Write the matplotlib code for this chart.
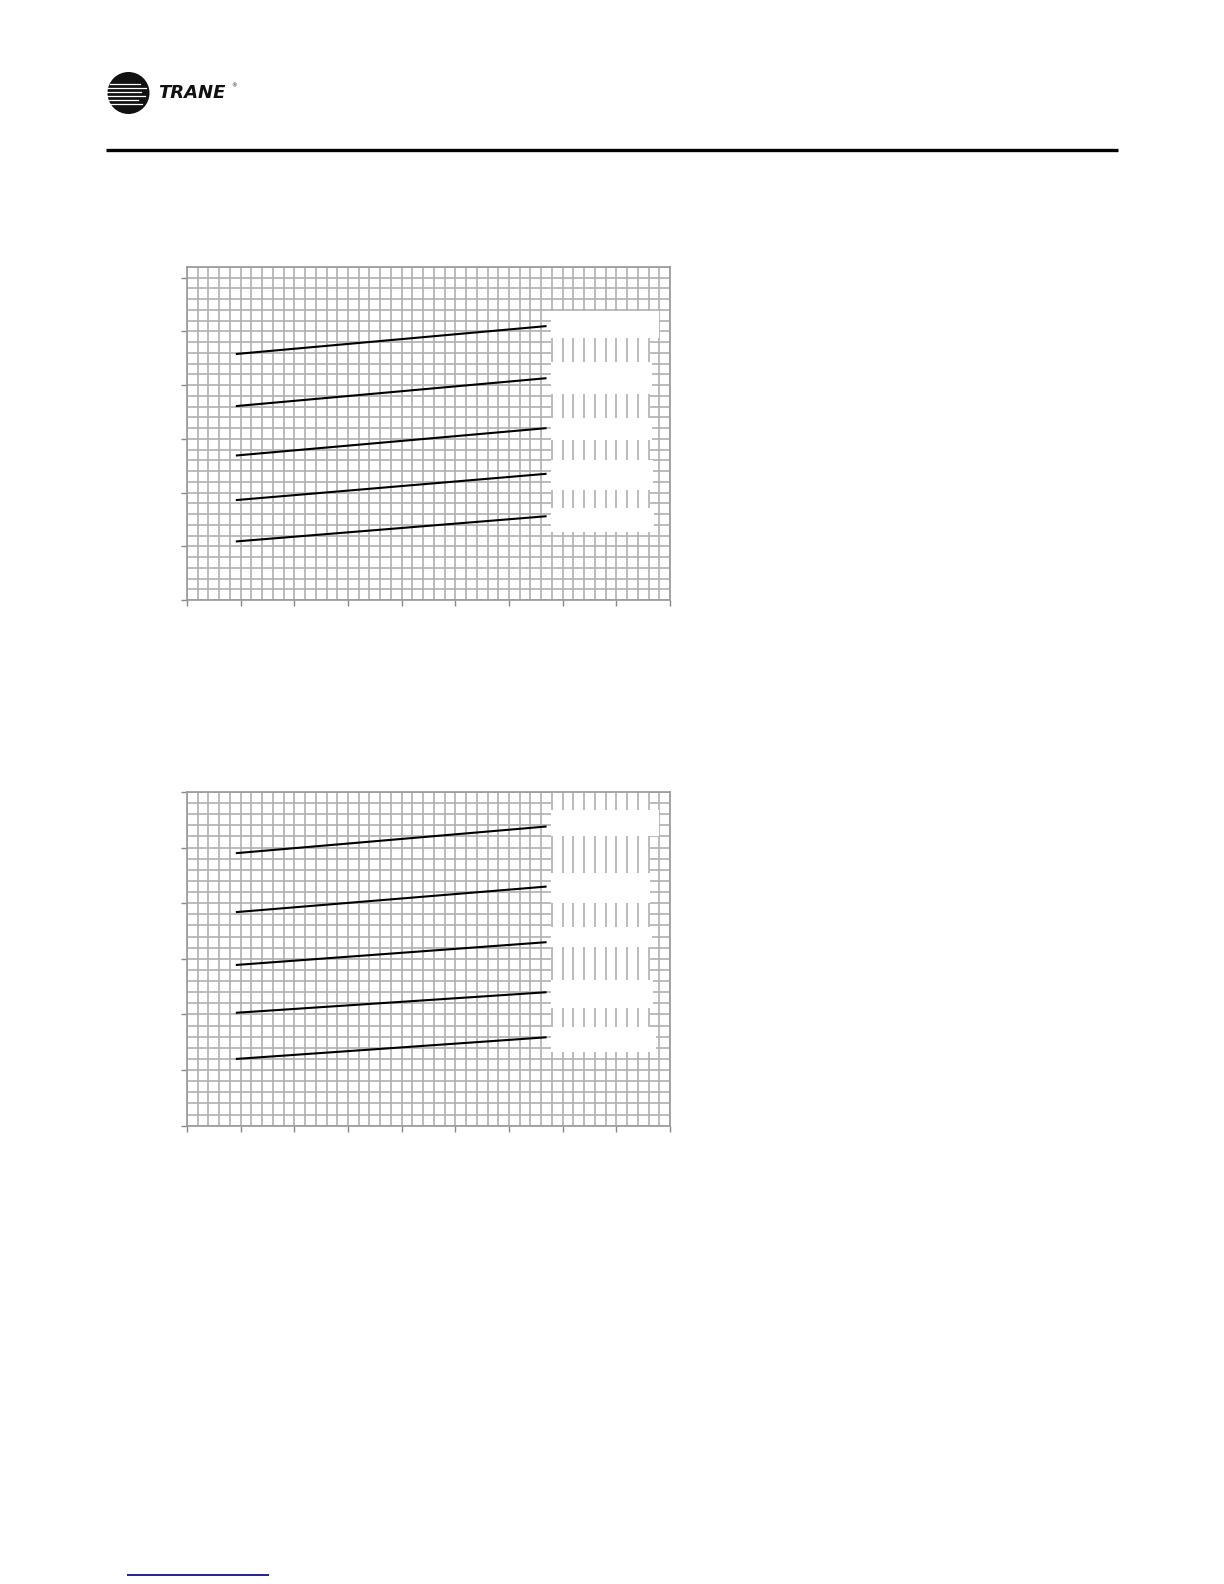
import numpy as np
import matplotlib.pyplot as plt
from matplotlib.patches import Rectangle, Circle
from matplotlib.ticker import MultipleLocator

# series (x in major grid units, y in major grid units)
line_x = [0.91, 6.70]

top_starts = [4.58, 3.61, 2.69, 1.86, 1.09]
top_ends = [5.10, 4.13, 3.20, 2.35, 1.56]

bottom_starts = [4.90, 3.84, 2.89, 2.03, 1.20]
bottom_ends = [5.38, 4.30, 3.30, 2.40, 1.59]

# blanked label areas at the right of each chart: (x_right, y_bottom, y_top)
top_boxes = [(8.79, 4.885, 5.38), (8.66, 3.83, 4.44), (8.66, 2.98, 3.38),
             (8.69, 2.05, 2.61), (8.70, 1.27, 1.71)]
bottom_boxes = [(8.80, 5.20, 5.67), (8.63, 4.00, 4.54), (8.66, 3.21, 3.58),
                (8.69, 2.12, 2.62), (8.73, 1.33, 1.78)]

GRID = '#b0b0b0'
BOX_LEFT = 6.777
GAP_RIGHT = 8.627


def draw_chart(ax, starts, ends, boxes, ymax, gap_top):
    ax.set_xlim(0, 9)
    ax.set_ylim(0, ymax)
    ax.xaxis.set_major_locator(MultipleLocator(1))
    ax.xaxis.set_minor_locator(MultipleLocator(0.2))
    ax.yaxis.set_major_locator(MultipleLocator(1))
    ax.yaxis.set_minor_locator(MultipleLocator(0.2))
    ax.grid(which='both', color=GRID, linewidth=1.2)
    ax.tick_params(which='major', length=4, width=1, color='#888888',
                   labelbottom=False, labelleft=False)
    ax.tick_params(which='minor', length=0)
    for s in ax.spines.values():
        s.set_color('#999999')
        s.set_linewidth(1.2)

    # white strip that hides the horizontal grid behind the labels
    y_low = min(b[1] for b in boxes)
    ax.add_patch(Rectangle((BOX_LEFT, y_low), GAP_RIGHT - BOX_LEFT, gap_top - y_low,
                           facecolor='white', edgecolor='none', zorder=1.8))
    # vertical grid still shows between the label boxes
    locs = np.concatenate([ax.xaxis.get_minorticklocs(), ax.xaxis.get_majorticklocs()])
    xs = sorted(x for x in locs if BOX_LEFT < x < GAP_RIGHT)
    ax.vlines(xs, y_low, gap_top, color=GRID, linewidth=1.2, zorder=1.9)
    for xr, yb, yt in boxes:
        ax.add_patch(Rectangle((BOX_LEFT, yb), xr - BOX_LEFT, yt - yb,
                               facecolor='white', edgecolor='none', zorder=1.95))

    for s, e in zip(starts, ends):
        ax.plot(line_x, [s, e], color='black', linewidth=1.5, zorder=3,
                solid_capstyle='butt')


fig = plt.figure(figsize=(12.24, 15.84), dpi=100)

ax1 = fig.add_axes([187 / 1224, 1 - 600 / 1584, 483 / 1224, 333 / 1584])
draw_chart(ax1, top_starts, top_ends, top_boxes, 6.2, top_boxes[0][2])

ax2 = fig.add_axes([187 / 1224, 1 - 1125.7 / 1584, 483 / 1224, 333.7 / 1584])
draw_chart(ax2, bottom_starts, bottom_ends, bottom_boxes, 6.0, 6.0)

# page decoration in pixel coordinates
page = fig.add_axes([0, 0, 1, 1], zorder=-1)
page.set_xlim(0, 1224)
page.set_ylim(1584, 0)
page.axis('off')

page.add_patch(Circle((128.5, 93), 21, facecolor='#111111', edgecolor='none'))
for yy, x0, x1 in [(84, 110, 140), (88, 108, 146), (92, 107, 141), (96, 107, 145),
                   (100, 108, 138), (104, 110, 142)]:
    page.plot([x0, x1], [yy, yy], color='white', linewidth=0.9)
page.text(158, 98, 'TRANE', fontsize=13, fontweight='heavy', fontstyle='italic',
          color='#111111', family='DejaVu Sans')
page.text(231, 87, '®', fontsize=4, color='#111111')

page.plot([106, 1118], [150, 150], color='black', linewidth=2.4,
          solid_capstyle='butt')
page.plot([127, 269], [1575, 1575], color='#10108a', linewidth=1.3,
          solid_capstyle='butt')

fig.savefig('out.png', dpi=100, facecolor='white')
